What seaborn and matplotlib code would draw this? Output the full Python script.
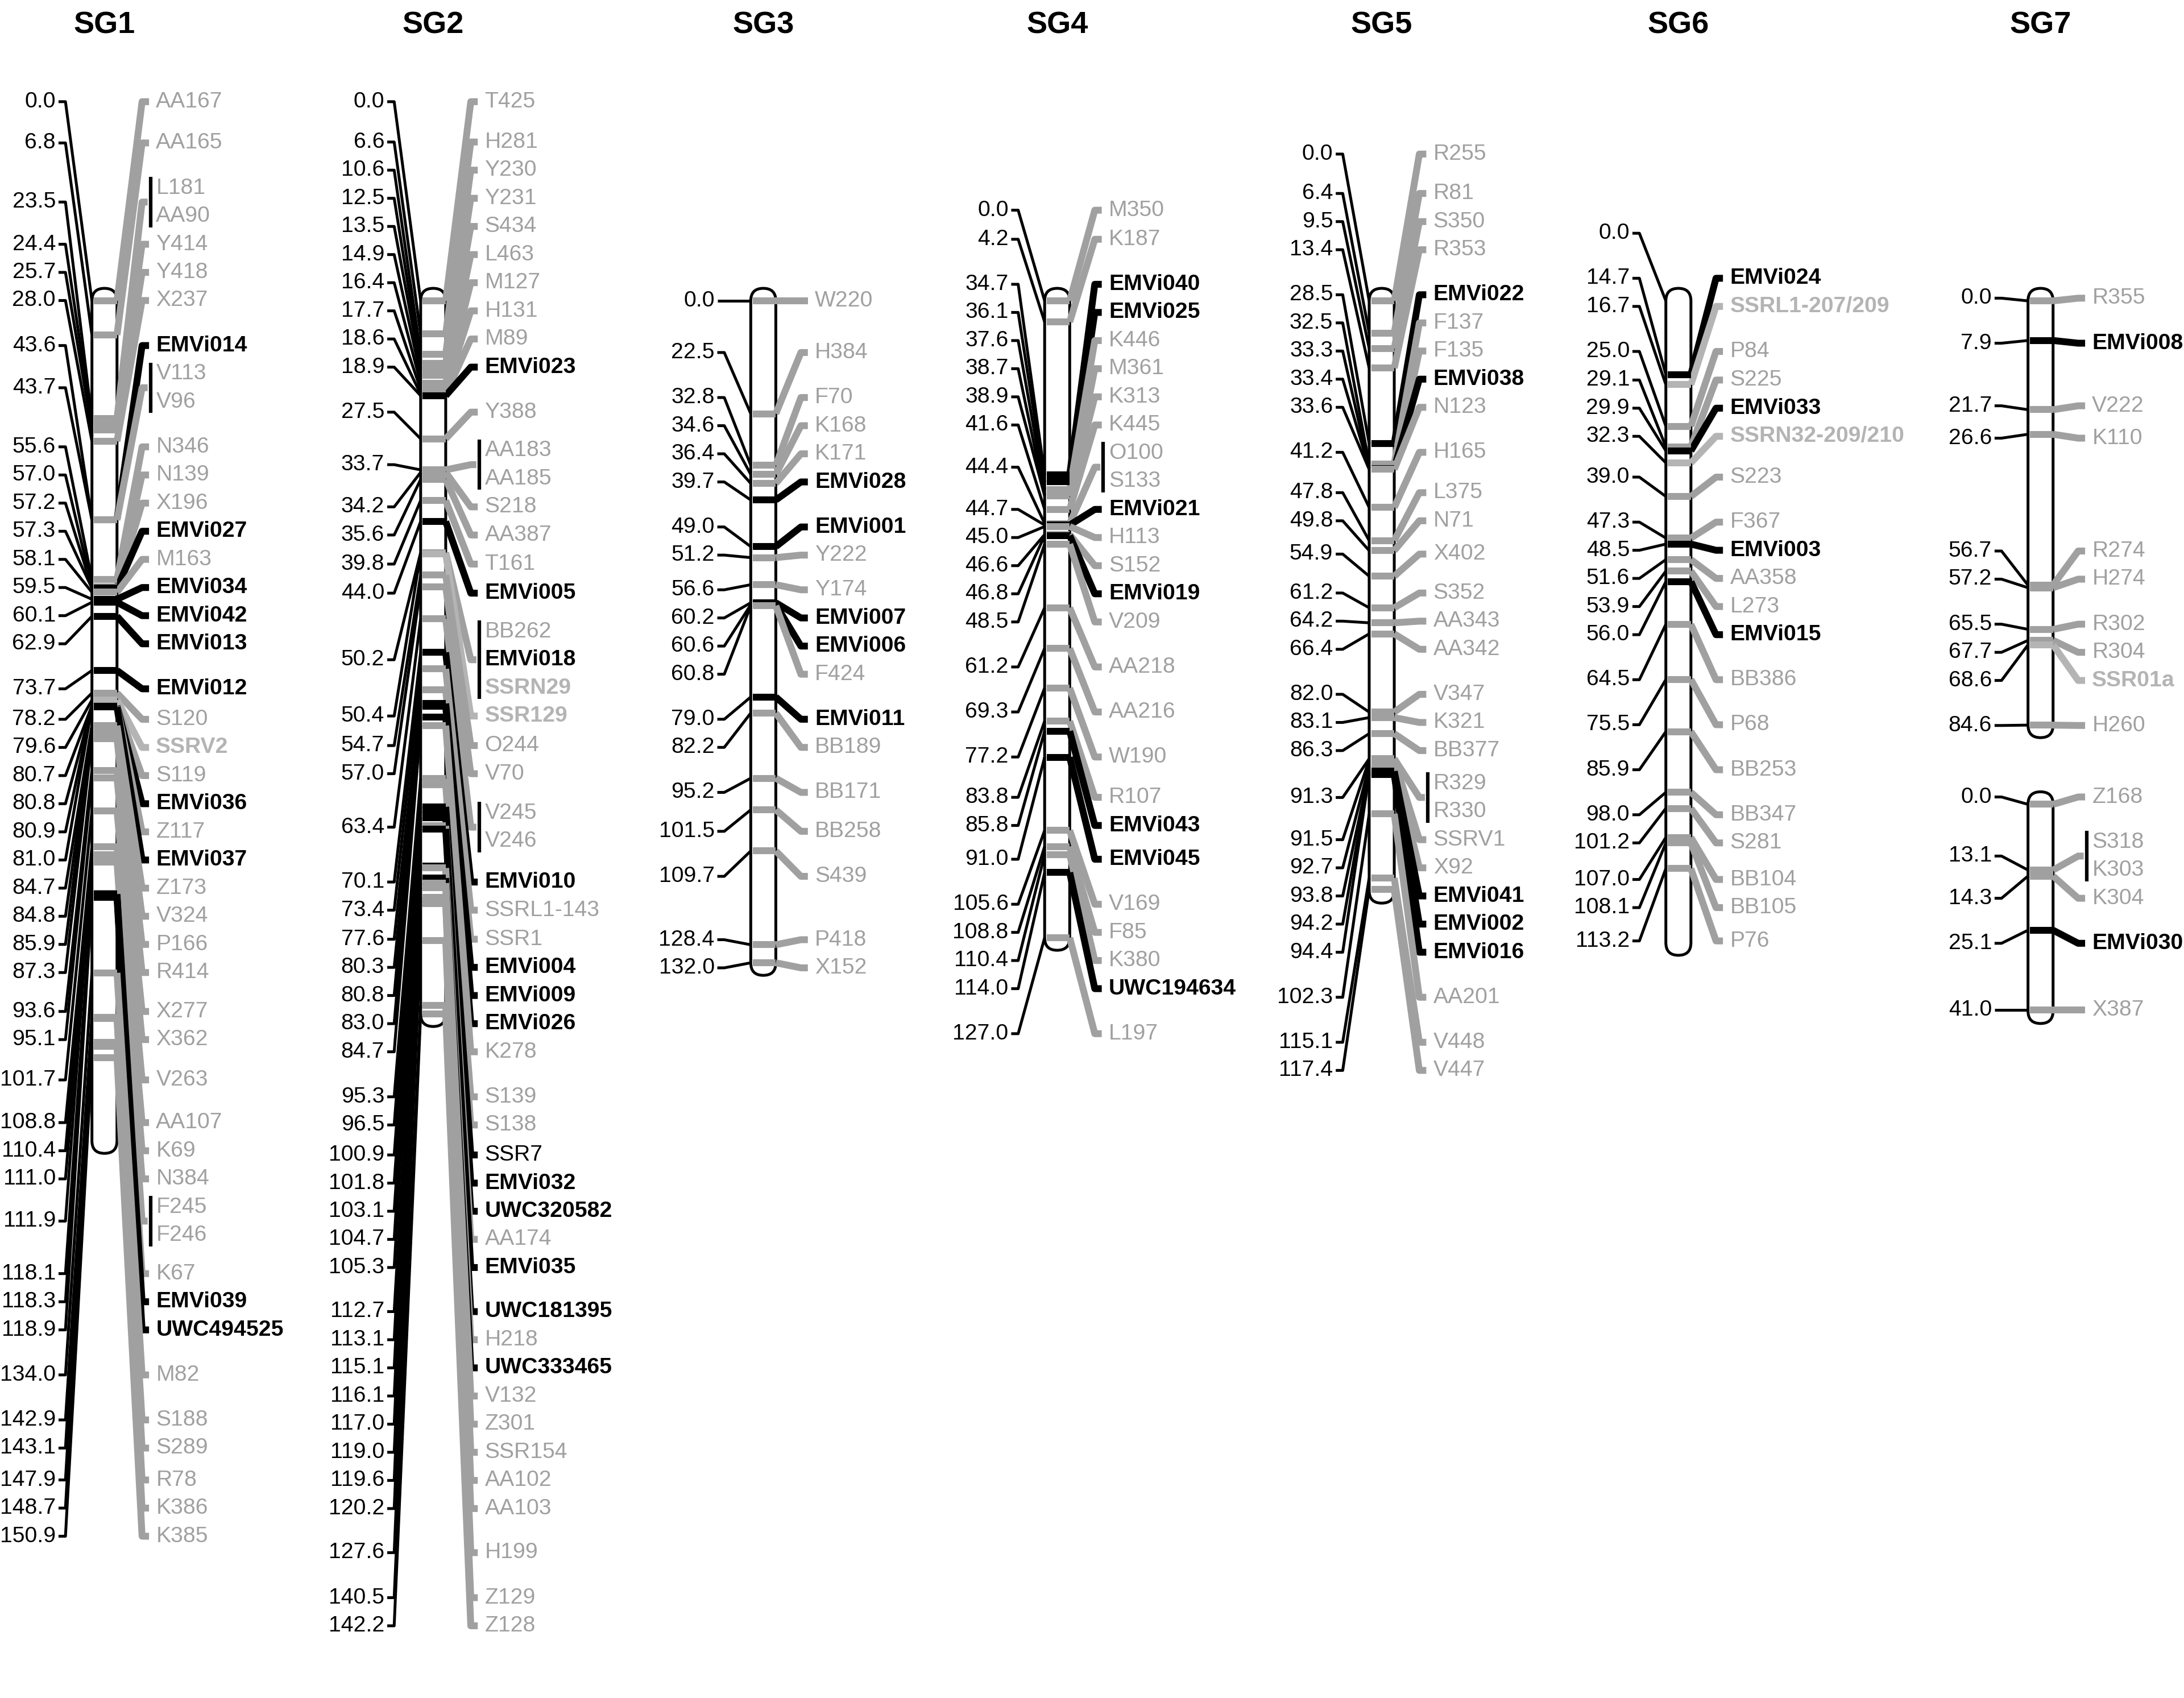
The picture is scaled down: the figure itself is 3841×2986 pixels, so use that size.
import matplotlib
matplotlib.use("Agg")
import matplotlib.pyplot as plt
import seaborn as sns
import pandas as pd
from matplotlib.patches import FancyBboxPatch

# ---------------- data ----------------
SG1_names = ["AA167", "AA165", "L181", "AA90", "Y414", "Y418", "X237", "EMVi014", "V113", "V96",
             "N346", "N139", "X196", "EMVi027", "M163", "EMVi034", "EMVi042", "EMVi013", "EMVi012",
             "S120", "SSRV2", "S119", "EMVi036", "Z117", "EMVi037", "Z173", "V324", "P166", "R414",
             "X277", "X362", "V263", "AA107", "K69", "N384", "F245", "F246", "K67", "EMVi039",
             "UWC494525", "M82", "S188", "S289", "R78", "K386", "K385"]
SG1_cM = [0.0, 6.8, 23.5, 23.5, 24.4, 25.7, 28.0, 43.6, 43.7, 43.7,
          55.6, 57.0, 57.2, 57.3, 58.1, 59.5, 60.1, 62.9, 73.7,
          78.2, 79.6, 80.7, 80.8, 80.9, 81.0, 84.7, 84.8, 85.9, 87.3,
          93.6, 95.1, 101.7, 108.8, 110.4, 111.0, 111.9, 111.9, 118.1, 118.3,
          118.9, 134.0, 142.9, 143.1, 147.9, 148.7, 150.9]

SG2_names = ["T425", "H281", "Y230", "Y231", "S434", "L463", "M127", "H131", "M89", "EMVi023",
             "Y388", "AA183", "AA185", "S218", "AA387", "T161", "EMVi005", "BB262", "EMVi018",
             "SSRN29", "SSR129", "O244", "V70", "V245", "V246", "EMVi010", "SSRL1-143", "SSR1",
             "EMVi004", "EMVi009", "EMVi026", "K278", "S139", "S138", "SSR7", "EMVi032",
             "UWC320582", "AA174", "EMVi035", "UWC181395", "H218", "UWC333465", "V132", "Z301",
             "SSR154", "AA102", "AA103", "H199", "Z129", "Z128"]
SG2_cM = [0.0, 6.6, 10.6, 12.5, 13.5, 14.9, 16.4, 17.7, 18.6, 18.9,
          27.5, 33.7, 33.7, 34.2, 35.6, 39.8, 44.0, 50.2, 50.2,
          50.2, 50.4, 54.7, 57.0, 63.4, 63.4, 70.1, 73.4, 77.6,
          80.3, 80.8, 83.0, 84.7, 95.3, 96.5, 100.9, 101.8,
          103.1, 104.7, 105.3, 112.7, 113.1, 115.1, 116.1, 117.0,
          119.0, 119.6, 120.2, 127.6, 140.5, 142.2]

SG3_names = ["W220", "H384", "F70", "K168", "K171", "EMVi028", "EMVi001", "Y222", "Y174",
             "EMVi007", "EMVi006", "F424", "EMVi011", "BB189", "BB171", "BB258", "S439", "P418", "X152"]
SG3_cM = [0.0, 22.5, 32.8, 34.6, 36.4, 39.7, 49.0, 51.2, 56.6,
          60.2, 60.6, 60.8, 79.0, 82.2, 95.2, 101.5, 109.7, 128.4, 132.0]

SG4_names = ["M350", "K187", "EMVi040", "EMVi025", "K446", "M361", "K313", "K445", "O100", "S133",
             "EMVi021", "H113", "S152", "EMVi019", "V209", "AA218", "AA216", "W190", "R107",
             "EMVi043", "EMVi045", "V169", "F85", "K380", "UWC194634", "L197"]
SG4_cM = [0.0, 4.2, 34.7, 36.1, 37.6, 38.7, 38.9, 41.6, 44.4, 44.4,
          44.7, 45.0, 46.6, 46.8, 48.5, 61.2, 69.3, 77.2, 83.8,
          85.8, 91.0, 105.6, 108.8, 110.4, 114.0, 127.0]

SG5_names = ["R255", "R81", "S350", "R353", "EMVi022", "F137", "F135", "EMVi038", "N123", "H165",
             "L375", "N71", "X402", "S352", "AA343", "AA342", "V347", "K321", "BB377", "R329",
             "R330", "SSRV1", "X92", "EMVi041", "EMVi002", "EMVi016", "AA201", "V448", "V447"]
SG5_cM = [0.0, 6.4, 9.5, 13.4, 28.5, 32.5, 33.3, 33.4, 33.6, 41.2,
          47.8, 49.8, 54.9, 61.2, 64.2, 66.4, 82.0, 83.1, 86.3, 91.3,
          91.3, 91.5, 92.7, 93.8, 94.2, 94.4, 102.3, 115.1, 117.4]

SG6_names = ["", "EMVi024", "SSRL1-207/209", "P84", "S225", "EMVi033", "SSRN32-209/210", "S223",
             "F367", "EMVi003", "AA358", "L273", "EMVi015", "BB386", "P68", "BB253", "BB347",
             "S281", "BB104", "BB105", "P76"]
SG6_cM = [0.0, 14.7, 16.7, 25.0, 29.1, 29.9, 32.3, 39.0,
          47.3, 48.5, 51.6, 53.9, 56.0, 64.5, 75.5, 85.9, 98.0,
          101.2, 107.0, 108.1, 113.2]

SG7a_names = ["R355", "EMVi008", "V222", "K110", "R274", "H274", "R302", "R304", "SSR01a", "H260"]
SG7a_cM = [0.0, 7.9, 21.7, 26.6, 56.7, 57.2, 65.5, 67.7, 68.6, 84.6]

SG7b_names = ["Z168", "S318", "K303", "K304", "EMVi030", "X387"]
SG7b_cM = [0.0, 13.1, 13.1, 14.3, 25.1, 41.0]

# drawn length of each linkage-group bar (cM): SG1..SG6, SG7a, SG7b
BAR_LEN_cM = [167.5, 142.2, 132.0, 127.0, 117.6, 128.0, 84.6, 41.2]

TITLES = ["SG1", "SG2", "SG3", "SG4", "SG5", "SG6", "SG7"]
GRAY_BOLD = {"SSRV2", "SSRN29", "SSR129", "SSRL1-207/209", "SSRN32-209/210", "SSR01a"}
BLACK_PLAIN = {"SSR7"}

# ---------------- style / layout ----------------
sns.set_theme(style="white")
plt.rcParams['font.family'] = ['Liberation Sans', 'DejaVu Sans']

W, H = 1568, 1219
COL_X = [75, 311, 548, 759, 992, 1205, 1465]
Y0 = 216.0       # y of 0 cM
K = 3.6          # px per cM
D = 20.2         # label spacing
YMIN = 73.0      # highest allowed label row
HW = 9.0         # bar half width
SEG_GAP_CM = 15.8
FS = 9.4
BLACK = "#000000"
GRAY = "#a0a0a0"
GRAYB = "#b4b4b4"


def style(name):
    if name.startswith("EMVi") or name.startswith("UWC"):
        return BLACK, "bold"
    if name in GRAY_BOLD:
        return GRAYB, "bold"
    if name in BLACK_PLAIN:
        return BLACK, "normal"
    return GRAY, "normal"


def spread(targets, sizes, gaps_cm, d, ymin):
    """Non-overlapping label rows closest to targets (isotonic regression)."""
    n = len(targets)
    offs = [0.0]
    for i in range(1, n):
        extra = min(0.6, max(0.0, (gaps_cm[i - 1] - 4.0) / 6.0))
        offs.append(offs[-1] + ((sizes[i - 1] + sizes[i]) / 2.0 + extra) * d)
    vals = [t - o for t, o in zip(targets, offs)]
    blocks = []
    for v, w in zip(vals, sizes):
        blocks.append([v * w, float(w), 1])
        while len(blocks) > 1 and blocks[-2][0] / blocks[-2][1] > blocks[-1][0] / blocks[-1][1]:
            b = blocks.pop()
            blocks[-1][0] += b[0]
            blocks[-1][1] += b[1]
            blocks[-1][2] += b[2]
    z = []
    for s, w, c in blocks:
        z += [s / w] * c
    lo = ymin + (sizes[0] - 1) / 2.0 * d
    z = [max(zi, lo) for zi in z]
    return [zi + o for zi, o in zip(z, offs)]


fig = plt.figure(figsize=(3841 / 300, 2986 / 300), dpi=300)
ax = fig.add_axes([0, 0, 1, 1])
ax.set_xlim(0, W)
ax.set_ylim(H, 0)
ax.axis("off")

columns = [
    [(SG1_names, SG1_cM)],
    [(SG2_names, SG2_cM)],
    [(SG3_names, SG3_cM)],
    [(SG4_names, SG4_cM)],
    [(SG5_names, SG5_cM)],
    [(SG6_names, SG6_cM)],
    [(SG7a_names, SG7a_cM), (SG7b_names, SG7b_cM)],
]


def draw_segment(cx, names, cm, start_cm, bar_len):
    df = pd.DataFrame({"name": names, "cM": cm})
    groups = [(pos, list(g["name"])) for pos, g in df.groupby("cM", sort=True)]
    ypos = lambda c: Y0 + (start_cm + c) * K
    ytop = ypos(0) - HW
    ybot = ypos(bar_len) + HW
    bar = FancyBboxPatch((cx - HW, ytop), 2 * HW, ybot - ytop,
                         boxstyle=f"round,pad=0,rounding_size={HW}",
                         fc="white", ec=BLACK, lw=1.2, zorder=2)
    ax.add_patch(bar)
    poss = [p for p, _ in groups]
    targets = [ypos(p) for p in poss]
    sizes = [max(1, len(n)) for _, n in groups]
    gaps = [b - a for a, b in zip(poss[:-1], poss[1:])]
    centers = spread(targets, sizes, gaps, D, YMIN)
    for (pos, nms), yt, yc, k in zip(groups, targets, centers, sizes):
        ax.plot([cx - 33, cx - 28, cx - HW], [yc, yc, yt], color=BLACK, lw=1.2,
                solid_capstyle="butt", zorder=3)
        ax.text(cx - 35, yc, f"{pos:.1f}", ha="right", va="center", fontsize=FS, color=BLACK)
        real = [n for n in nms if n]
        if not real:
            continue
        col, _ = style(real[0])
        ax.plot([cx - HW + 1.5, cx + HW], [yt, yt], color=col, lw=2.9,
                solid_capstyle="butt", zorder=4)
        xend = cx + 31 if k > 1 else cx + 32
        ax.plot([cx + HW, cx + 27, xend], [yt, yc, yc], color=col, lw=2.9,
                solid_capstyle="butt", zorder=3)
        if k > 1:
            ax.plot([cx + 33, cx + 33], [yc - (k - 1) / 2 * D - 8, yc + (k - 1) / 2 * D + 8],
                    color=BLACK, lw=1.5, solid_capstyle="butt", zorder=3)
        for j, n in enumerate(real):
            yn = yc + (j - (k - 1) / 2.0) * D
            c, wgt = style(n)
            ax.text(cx + 37, yn, n, ha="left", va="center", fontsize=FS, color=c, fontweight=wgt)


seg_i = 0
for cx, title, segs in zip(COL_X, TITLES, columns):
    ax.text(cx, 18, title, ha="center", va="center", fontsize=13, fontweight="bold", color=BLACK)
    start = 0.0
    for names, cm in segs:
        draw_segment(cx, names, cm, start, BAR_LEN_cM[seg_i])
        start += BAR_LEN_cM[seg_i] + SEG_GAP_CM
        seg_i += 1

fig.savefig("out.png", dpi=300, facecolor="white")
